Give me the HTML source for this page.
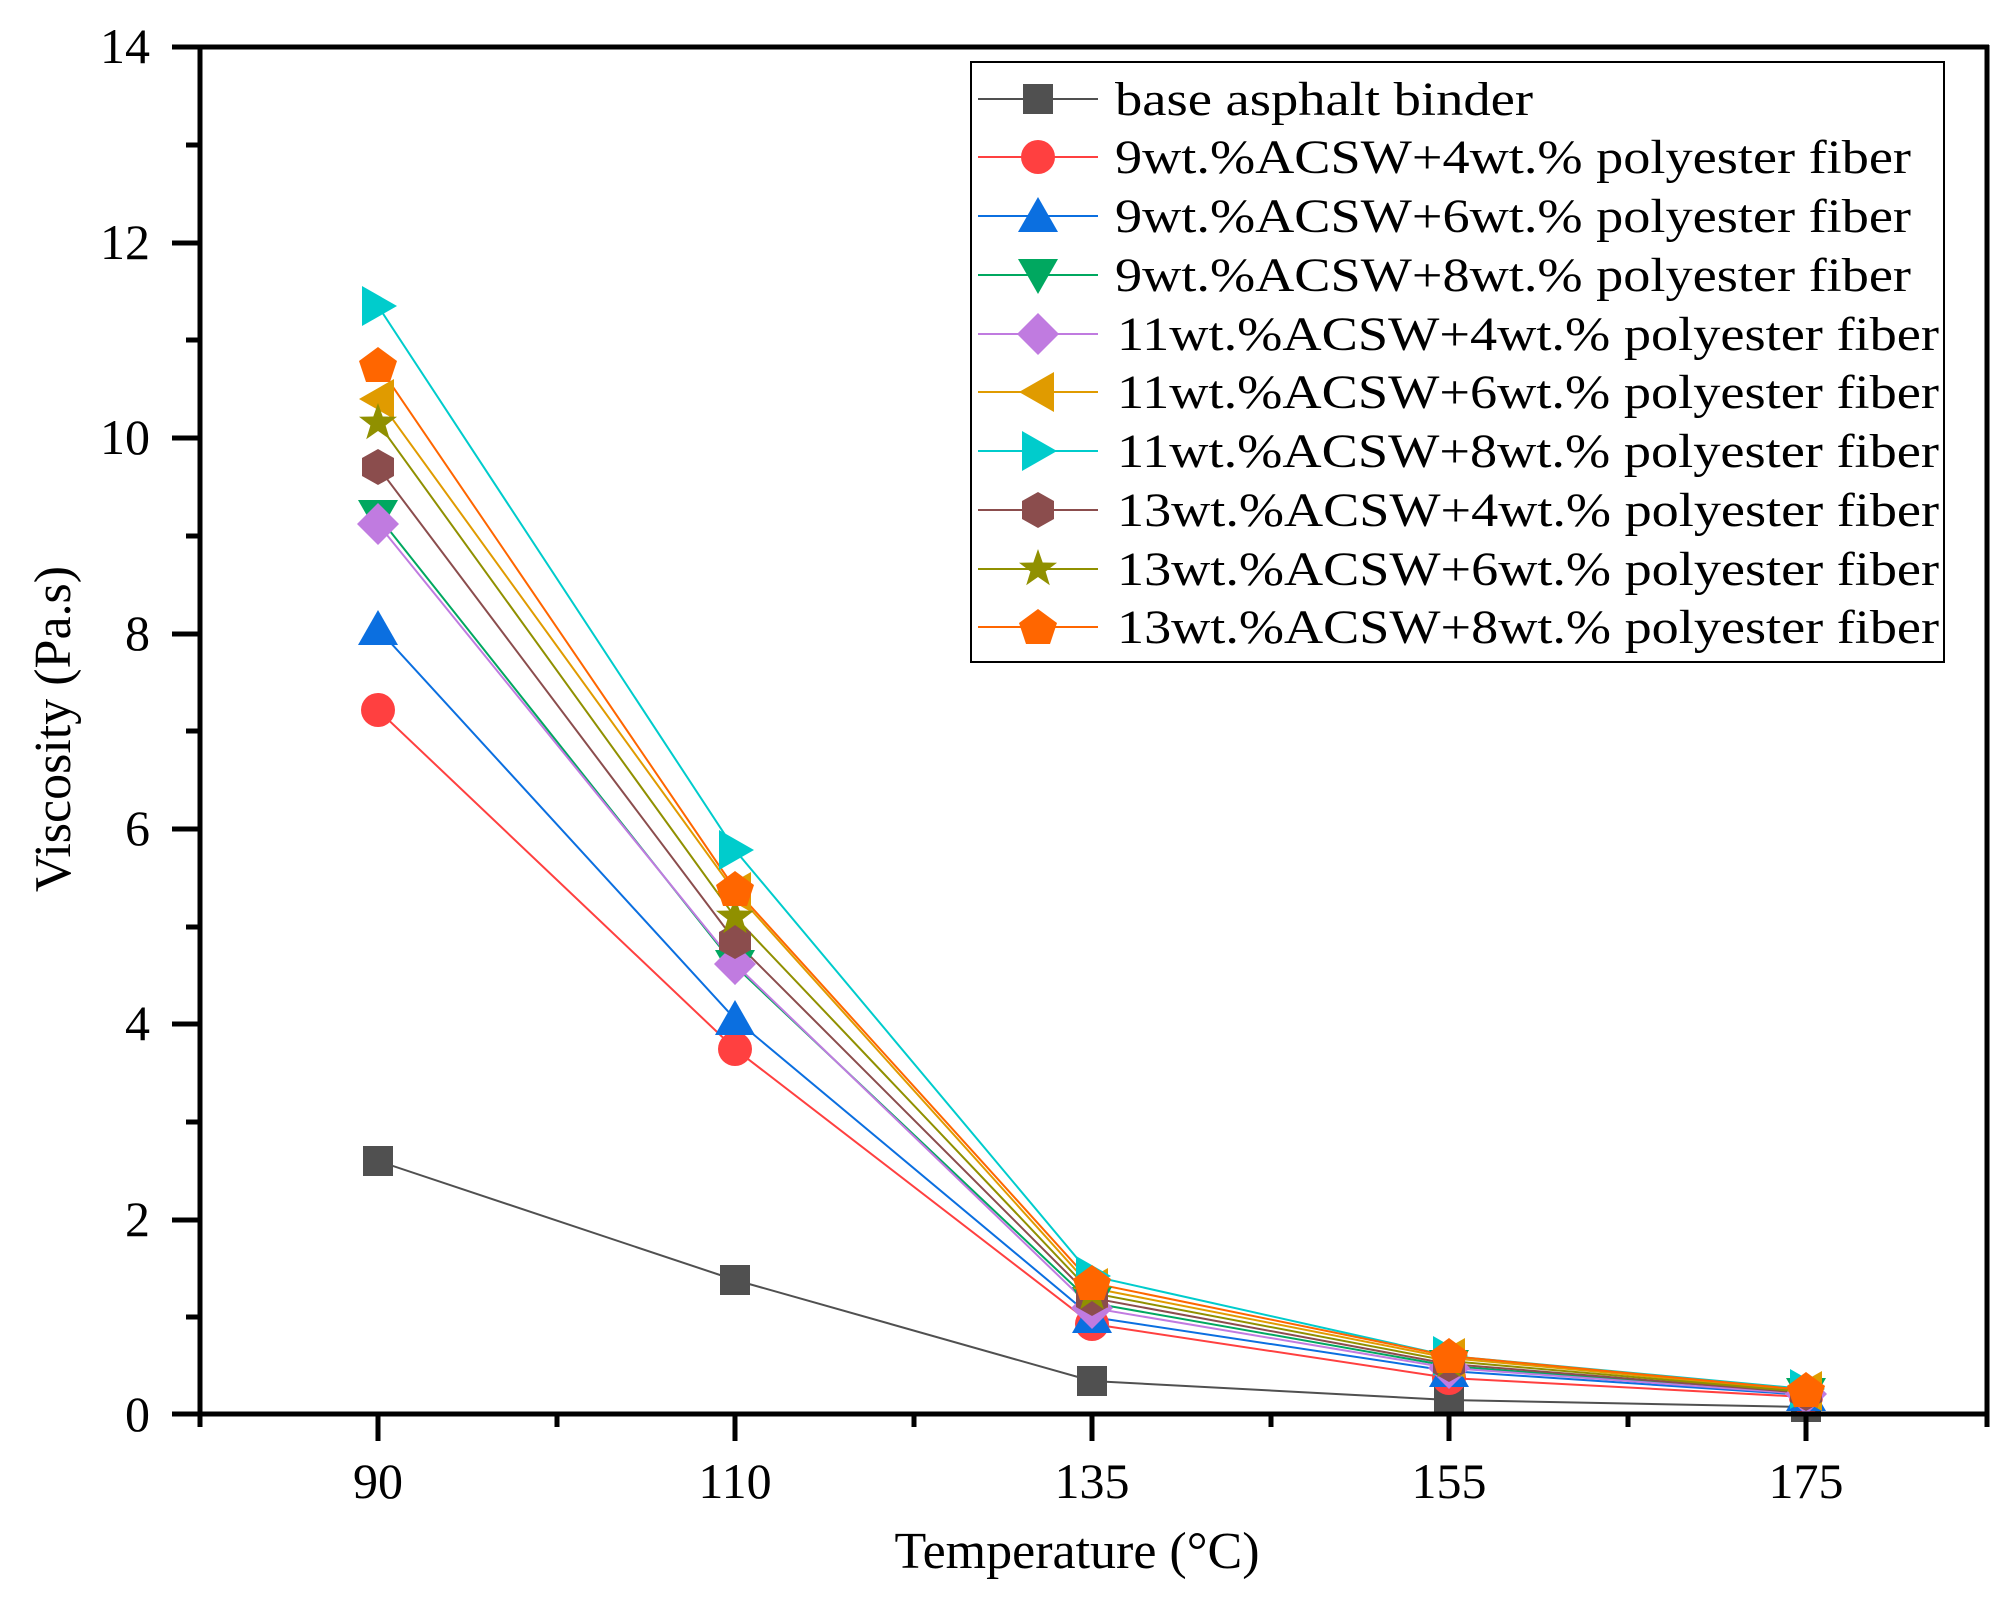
<!DOCTYPE html>
<html><head><meta charset="utf-8"><style>body{margin:0;background:#fff}svg{display:block}</style></head><body>
<svg width="2011" height="1599" xmlns="http://www.w3.org/2000/svg" font-family="Liberation Serif, serif">
<defs>
<rect id="sq" x="-15" y="-15" width="30" height="30"/>
<circle id="ci" r="17"/>
<polygon id="tu" points="0,-19 20,16 -20,16"/>
<polygon id="td" points="0,19 20,-16 -20,-16"/>
<polygon id="di" points="0,-21 21,0 0,21 -21,0"/>
<polygon id="tl" points="-19,0 16,-20 16,20"/>
<polygon id="tr" points="19,0 -16,-20 -16,20"/>
<polygon id="hx" points="0,-18 16,-9 16,9 0,18 -16,9 -16,-9"/>
<polygon id="st" points="0,-20 4.7,-6.5 19,-6.2 7.6,2.5 11.8,16.2 0,8 -11.8,16.2 -7.6,2.5 -19,-6.2 -4.7,-6.5"/>
<polygon id="pe" points="0,-18 19,-4 12,17 -12,17 -19,-4"/>
</defs>
<g fill="none" stroke-width="2">
<polyline stroke="#505050" points="378,1161 735,1280 1092,1381 1449,1400 1806,1407"/>
<polyline stroke="#ff4040" points="378,710 735,1049 1092,1324 1449,1378 1806,1397"/>
<polyline stroke="#0b6fe0" points="378,629 735,1019 1092,1317 1449,1371 1806,1395"/>
<polyline stroke="#00a860" points="378,516 735,966 1092,1303 1449,1366 1806,1394"/>
<polyline stroke="#c07be0" points="378,524 735,964 1092,1308 1449,1368 1806,1394"/>
<polyline stroke="#e09b00" points="378,399 735,892 1092,1288 1449,1358 1806,1391"/>
<polyline stroke="#00cccc" points="378,306 735,850 1092,1276 1449,1356 1806,1389"/>
<polyline stroke="#8b4d4d" points="378,467 735,941 1092,1298 1449,1364 1806,1393"/>
<polyline stroke="#909000" points="378,423 735,917 1092,1293 1449,1361 1806,1392"/>
<polyline stroke="#ff6600" points="378,365 735,889 1092,1283 1449,1356 1806,1390"/>
</g>
<g fill="#505050"><use href="#sq" x="378" y="1161"/><use href="#sq" x="735" y="1280"/><use href="#sq" x="1092" y="1381"/><use href="#sq" x="1449" y="1400"/><use href="#sq" x="1806" y="1407"/></g>
<g fill="#ff4040"><use href="#ci" x="378" y="710"/><use href="#ci" x="735" y="1049"/><use href="#ci" x="1092" y="1324"/><use href="#ci" x="1449" y="1378"/><use href="#ci" x="1806" y="1397"/></g>
<g fill="#0b6fe0"><use href="#tu" x="378" y="629"/><use href="#tu" x="735" y="1019"/><use href="#tu" x="1092" y="1317"/><use href="#tu" x="1449" y="1371"/><use href="#tu" x="1806" y="1395"/></g>
<g fill="#00a860"><use href="#td" x="378" y="516"/><use href="#td" x="735" y="966"/><use href="#td" x="1092" y="1303"/><use href="#td" x="1449" y="1366"/><use href="#td" x="1806" y="1394"/></g>
<g fill="#c07be0"><use href="#di" x="378" y="524"/><use href="#di" x="735" y="964"/><use href="#di" x="1092" y="1308"/><use href="#di" x="1449" y="1368"/><use href="#di" x="1806" y="1394"/></g>
<g fill="#e09b00"><use href="#tl" x="378" y="399"/><use href="#tl" x="735" y="892"/><use href="#tl" x="1092" y="1288"/><use href="#tl" x="1449" y="1358"/><use href="#tl" x="1806" y="1391"/></g>
<g fill="#00cccc"><use href="#tr" x="378" y="306"/><use href="#tr" x="735" y="850"/><use href="#tr" x="1092" y="1276"/><use href="#tr" x="1449" y="1356"/><use href="#tr" x="1806" y="1389"/></g>
<g fill="#8b4d4d"><use href="#hx" x="378" y="467"/><use href="#hx" x="735" y="941"/><use href="#hx" x="1092" y="1298"/><use href="#hx" x="1449" y="1364"/><use href="#hx" x="1806" y="1393"/></g>
<g fill="#909000"><use href="#st" x="378" y="423"/><use href="#st" x="735" y="917"/><use href="#st" x="1092" y="1293"/><use href="#st" x="1449" y="1361"/><use href="#st" x="1806" y="1392"/></g>
<g fill="#ff6600"><use href="#pe" x="378" y="365"/><use href="#pe" x="735" y="889"/><use href="#pe" x="1092" y="1283"/><use href="#pe" x="1449" y="1356"/><use href="#pe" x="1806" y="1390"/></g>
<g stroke="#000" stroke-width="5" fill="none">
<line x1="172" y1="47" x2="1989" y2="47"/>
<line x1="1987" y1="45" x2="1987" y2="1415"/>
<line x1="200" y1="45" x2="200" y2="1417"/>
<line x1="172" y1="1414" x2="1989" y2="1414"/>
</g>
<g stroke="#000" stroke-width="5">
<line x1="172" y1="243" x2="200" y2="243"/><line x1="172" y1="438" x2="200" y2="438"/><line x1="172" y1="634" x2="200" y2="634"/><line x1="172" y1="829" x2="200" y2="829"/><line x1="172" y1="1024" x2="200" y2="1024"/><line x1="172" y1="1220" x2="200" y2="1220"/>
<line x1="186" y1="145" x2="200" y2="145"/><line x1="186" y1="340" x2="200" y2="340"/><line x1="186" y1="536" x2="200" y2="536"/><line x1="186" y1="731" x2="200" y2="731"/><line x1="186" y1="927" x2="200" y2="927"/><line x1="186" y1="1122" x2="200" y2="1122"/><line x1="186" y1="1317" x2="200" y2="1317"/>
<line x1="378" y1="1414" x2="378" y2="1441"/><line x1="735" y1="1414" x2="735" y2="1441"/><line x1="1092" y1="1414" x2="1092" y2="1441"/><line x1="1449" y1="1414" x2="1449" y2="1441"/><line x1="1806" y1="1414" x2="1806" y2="1441"/>
<line x1="557" y1="1414" x2="557" y2="1427"/><line x1="914" y1="1414" x2="914" y2="1427"/><line x1="1271" y1="1414" x2="1271" y2="1427"/><line x1="1628" y1="1414" x2="1628" y2="1427"/><line x1="1987" y1="1414" x2="1987" y2="1427"/><line x1="200" y1="1414" x2="200" y2="1427"/>
</g>
<g font-size="50" text-anchor="end" fill="#000">
<text x="150" y="63">14</text><text x="150" y="259">12</text><text x="150" y="454">10</text><text x="150" y="650">8</text><text x="150" y="845">6</text><text x="150" y="1040">4</text><text x="150" y="1236">2</text><text x="150" y="1431">0</text>
</g>
<g font-size="50" text-anchor="middle" fill="#000">
<text x="378" y="1498">90</text><text x="735" y="1498">110</text><text x="1092" y="1498">135</text><text x="1449" y="1498">155</text><text x="1806" y="1498">175</text>
<text x="1077" y="1568" font-size="52">Temperature (°C)</text>
<text transform="translate(70,729) rotate(-90)" font-size="52">Viscosity (Pa.s)</text>
</g>
<rect x="971" y="62" width="973" height="600" fill="#fff" stroke="#000" stroke-width="2"/>
<g stroke-width="2">
<line x1="978" y1="99" x2="1098" y2="99" stroke="#505050"/><use href="#sq" x="1038" y="99" fill="#505050"/>
<line x1="978" y1="157" x2="1098" y2="157" stroke="#ff4040"/><use href="#ci" x="1038" y="157" fill="#ff4040"/>
<line x1="978" y1="216" x2="1098" y2="216" stroke="#0b6fe0"/><use href="#tu" x="1038" y="216" fill="#0b6fe0"/>
<line x1="978" y1="275" x2="1098" y2="275" stroke="#00a860"/><use href="#td" x="1038" y="275" fill="#00a860"/>
<line x1="978" y1="334" x2="1098" y2="334" stroke="#c07be0"/><use href="#di" x="1038" y="334" fill="#c07be0"/>
<line x1="978" y1="392" x2="1098" y2="392" stroke="#e09b00"/><use href="#tl" x="1038" y="392" fill="#e09b00"/>
<line x1="978" y1="451" x2="1098" y2="451" stroke="#00cccc"/><use href="#tr" x="1038" y="451" fill="#00cccc"/>
<line x1="978" y1="510" x2="1098" y2="510" stroke="#8b4d4d"/><use href="#hx" x="1038" y="510" fill="#8b4d4d"/>
<line x1="978" y1="569" x2="1098" y2="569" stroke="#909000"/><use href="#st" x="1038" y="569" fill="#909000"/>
<line x1="978" y1="627" x2="1098" y2="627" stroke="#ff6600"/><use href="#pe" x="1038" y="627" fill="#ff6600"/>
</g>
<g font-size="48" fill="#000">
<text x="1115" y="115" textLength="418" lengthAdjust="spacingAndGlyphs">base asphalt binder</text>
<text x="1115" y="173" textLength="796" lengthAdjust="spacingAndGlyphs">9wt.%ACSW+4wt.% polyester fiber</text>
<text x="1115" y="232" textLength="796" lengthAdjust="spacingAndGlyphs">9wt.%ACSW+6wt.% polyester fiber</text>
<text x="1115" y="291" textLength="796" lengthAdjust="spacingAndGlyphs">9wt.%ACSW+8wt.% polyester fiber</text>
<text x="1117" y="350" textLength="822" lengthAdjust="spacingAndGlyphs">11wt.%ACSW+4wt.% polyester fiber</text>
<text x="1117" y="408" textLength="822" lengthAdjust="spacingAndGlyphs">11wt.%ACSW+6wt.% polyester fiber</text>
<text x="1117" y="467" textLength="822" lengthAdjust="spacingAndGlyphs">11wt.%ACSW+8wt.% polyester fiber</text>
<text x="1117" y="526" textLength="822" lengthAdjust="spacingAndGlyphs">13wt.%ACSW+4wt.% polyester fiber</text>
<text x="1117" y="585" textLength="822" lengthAdjust="spacingAndGlyphs">13wt.%ACSW+6wt.% polyester fiber</text>
<text x="1117" y="643" textLength="822" lengthAdjust="spacingAndGlyphs">13wt.%ACSW+8wt.% polyester fiber</text>
</g>
</svg>
</body></html>
